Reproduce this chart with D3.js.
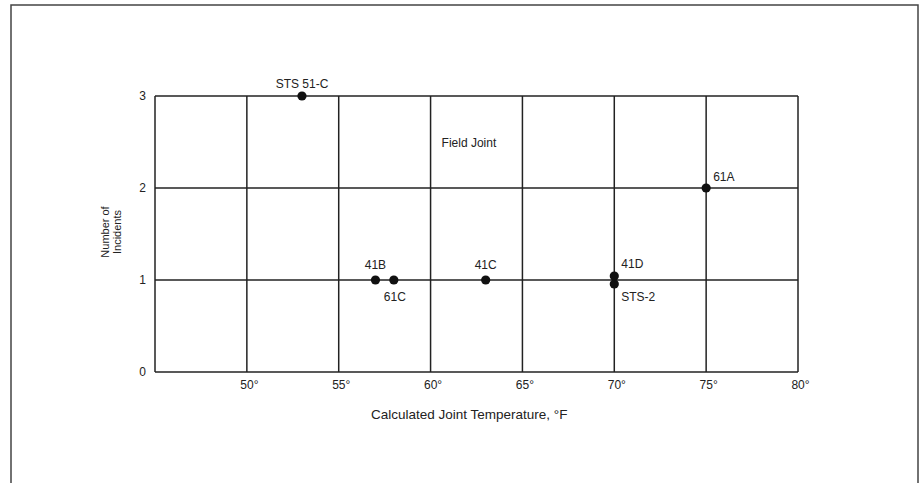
<!DOCTYPE html>
<html>
<head>
<meta charset="utf-8">
<script src="https://cdn.jsdelivr.net/npm/d3@7"></script>
<style>
    body { margin: 0; background: #fff; }
    text { font-family: "Liberation Sans", Arial, sans-serif; fill: #222; }
</style>
</head>
<body>
<div id="wrapper"></div>
<script>
// flights with O-ring incidents at field joints
const flights = ["STS 51-C", "41B", "61C", "41C", "41D", "STS-2", "61A"]
const temperatures = [53, 57, 58, 63, 70, 70, 75]
const incidents = [3, 1, 1, 1, 1, 1, 2]
const xTicks = [50, 55, 60, 65, 70, 75, 80]
const yTicks = [0, 1, 2, 3]

// where each label sits relative to its dot
const labelPlace = {
    "STS 51-C": { dx: 0, dy: -8, anchor: "middle" },
    "41B": { dx: 0, dy: -11, anchor: "middle" },
    "61C": { dx: -10, dy: 21, anchor: "start" },
    "41C": { dx: 0, dy: -11, anchor: "middle" },
    "41D": { dx: 7, dy: -12, anchor: "start" },
    "STS-2": { dx: 7, dy: 21, anchor: "start" },
    "61A": { dx: 7, dy: -7, anchor: "start" },
}

function drawChart() {
    const dataset = flights.map((f, i) => ({
        flight: f,
        temp: temperatures[i],
        count: incidents[i],
    }))

    const xAccessor = d => d.temp
    const yAccessor = d => d.count

    const dimensions = {
        width: 921,
        height: 483,
        margin: { top: 96, right: 123, bottom: 111, left: 155 },
    }
    dimensions.boundedWidth = dimensions.width - dimensions.margin.left - dimensions.margin.right
    dimensions.boundedHeight = dimensions.height - dimensions.margin.top - dimensions.margin.bottom

    const wrapper = d3.select("#wrapper")
        .append("svg")
        .attr("width", dimensions.width)
        .attr("height", dimensions.height)

    // page frame (open at the bottom)
    wrapper.append("path")
        .attr("d", "M11,490 V5 H918 V490")
        .attr("fill", "none")
        .attr("stroke", "#444")
        .attr("stroke-width", 1.5)

    const bounds = wrapper.append("g")
        .attr("transform", `translate(${dimensions.margin.left},${dimensions.margin.top})`)

    const xScale = d3.scaleLinear()
        .domain([45, 80])
        .range([0, dimensions.boundedWidth])

    const yScale = d3.scaleLinear()
        .domain([0, 3])
        .range([dimensions.boundedHeight, 0])

    // grid
    bounds.append("g")
        .selectAll("line")
        .data(xTicks)
        .join("line")
        .attr("x1", d => xScale(d))
        .attr("x2", d => xScale(d))
        .attr("y1", 0)
        .attr("y2", dimensions.boundedHeight)
        .attr("stroke", "#222")
        .attr("stroke-width", 1.5)

    bounds.append("g")
        .selectAll("line")
        .data(yTicks)
        .join("line")
        .attr("x1", 0)
        .attr("x2", dimensions.boundedWidth)
        .attr("y1", d => yScale(d))
        .attr("y2", d => yScale(d))
        .attr("stroke", "#222")
        .attr("stroke-width", 1.5)

    bounds.append("line")
        .attr("x1", 0).attr("x2", 0)
        .attr("y1", 0).attr("y2", dimensions.boundedHeight)
        .attr("stroke", "#222")
        .attr("stroke-width", 1.5)

    // axes, labels only
    const xAxisGenerator = d3.axisBottom(xScale)
        .tickValues(xTicks)
        .tickSize(0)
        .tickPadding(8)
        .tickFormat(d => d + "°")

    const xAxis = bounds.append("g")
        .attr("transform", `translate(0,${dimensions.boundedHeight})`)
        .call(xAxisGenerator)
    xAxis.select(".domain").remove()
    xAxis.selectAll("text")
        .attr("font-size", 12)
        .attr("dx", 2)
        .style("font-family", "Liberation Sans, Arial, sans-serif")
        .attr("fill", "#222")

    const yAxisGenerator = d3.axisLeft(yScale)
        .tickValues(yTicks)
        .tickSize(0)
        .tickPadding(9)
        .tickFormat(d3.format("d"))

    const yAxis = bounds.append("g").call(yAxisGenerator)
    yAxis.select(".domain").remove()
    yAxis.selectAll("text")
        .attr("font-size", 12)
        .style("font-family", "Liberation Sans, Arial, sans-serif")
        .attr("fill", "#222")

    xAxis.append("text")
        .attr("x", xScale(62.1))
        .attr("y", 47)
        .attr("text-anchor", "middle")
        .style("font-size", "13.5px")
        .text("Calculated Joint Temperature, °F")

    const yLabel = bounds.append("g")
        .attr("transform", `translate(-44,${yScale(1.5)}) rotate(-90)`)
    yLabel.append("text")
        .attr("x", 2)
        .attr("y", -2)
        .attr("text-anchor", "middle")
        .style("font-size", "11px")
        .text("Number of")
    yLabel.append("text")
        .attr("x", 2)
        .attr("y", 10)
        .attr("text-anchor", "middle")
        .style("font-size", "11px")
        .text("Incidents")

    bounds.append("text")
        .attr("x", xScale(60.6))
        .attr("y", yScale(2.45))
        .style("font-size", "12px")
        .text("Field Joint")

    // stack dots that share the same point
    const key = d => d.temp + "_" + d.count
    const groups = d3.group(dataset, key)
    dataset.forEach(d => {
        const g = groups.get(key(d))
        d.offset = (g.indexOf(d) - (g.length - 1) / 2) * 8
    })

    bounds.selectAll("circle")
        .data(dataset)
        .join("circle")
        .attr("cx", d => xScale(xAccessor(d)))
        .attr("cy", d => yScale(yAccessor(d)) + d.offset)
        .attr("r", 4.6)
        .attr("fill", "#111")

    bounds.selectAll(".flight-label")
        .data(dataset)
        .join("text")
        .attr("class", "flight-label")
        .attr("x", d => xScale(xAccessor(d)) + labelPlace[d.flight].dx)
        .attr("y", d => yScale(yAccessor(d)) + labelPlace[d.flight].dy)
        .attr("text-anchor", d => labelPlace[d.flight].anchor)
        .style("font-size", "12px")
        .text(d => d.flight)
}

drawChart()
</script>
</body>
</html>
